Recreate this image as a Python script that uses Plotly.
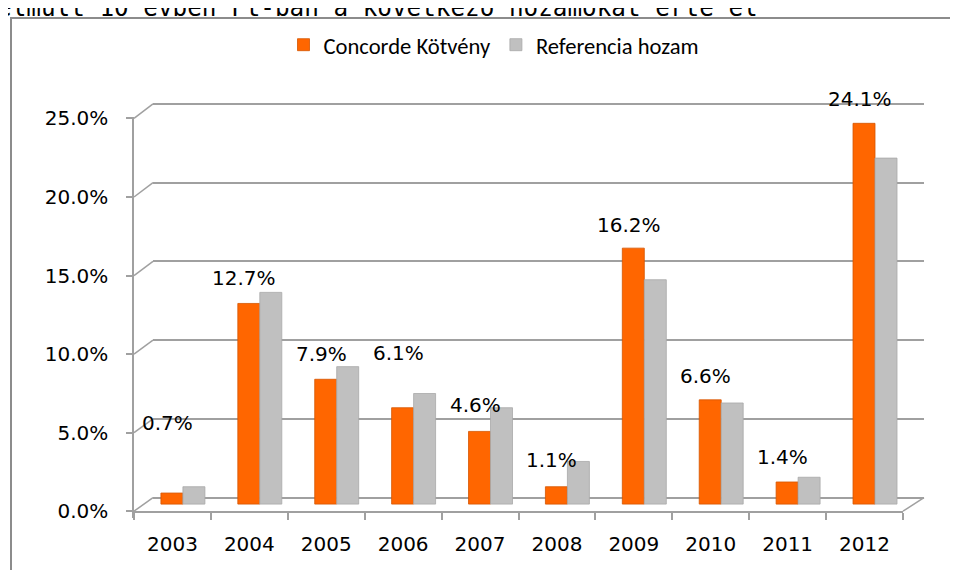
import plotly.graph_objects as go

# ---- data ----
years = ["2003", "2004", "2005", "2006", "2007", "2008", "2009", "2010", "2011", "2012"]
concorde = [0.7, 12.7, 7.9, 6.1, 4.6, 1.1, 16.2, 6.6, 1.4, 24.1]
referencia = [1.1, 13.4, 8.7, 7.0, 6.1, 2.7, 14.2, 6.4, 1.7, 21.9]
y_ticks = [0, 5, 10, 15, 20, 25]
series_names = ["Concorde Kötvény", "Referencia hozam"]
PCT = chr(37)
concorde_labels = [f"{v:.1f}{PCT}" for v in concorde]
y_tick_text = [f"{v:.1f}{PCT}" for v in y_ticks]

# ---- page geometry: the page body has an 8px margin, figure fills the rest ----
PAGE_W, PAGE_H, BODY = 958, 578, 8
W, H = PAGE_W - 2 * BODY, PAGE_H - 2 * BODY
def fx(px):            # page pixel -> paper fraction
    return (px - BODY) / W
def fy(py):
    return 1 - (py - BODY) / H

label_lift = [70, 25, 25, 55, 26, 27, 23, 24, 25, 24]   # px above bar top
GRID = "#A0A0A0"
ORANGE = "#FF6600"
GREY = "#C0C0C0"
TXT = "DejaVu Sans"

front_x = (134, 903)           # front x-axis extent (page px)
axis_y_dom = (117, 518)        # front y-axis line extent
front_zero, front_slope = 511.2, 15.71
back_x = (153, 924)
back_y_dom = (100, 502)
back_zero, back_slope = 497.7, 15.75
bar_y_dom = (117, front_zero)  # bar plane; its bottom carries the x-axis line
bar_zero, bar_slope = 504.1, 15.8

def rng(dom, zero, slope):
    return [-(dom[1] - zero) / slope, (zero - dom[0]) / slope]

fig = go.Figure()

fig.add_trace(go.Scatter(x=[], y=[], xaxis="x", yaxis="y", showlegend=False, hoverinfo="skip"))
fig.add_trace(go.Bar(
    x=years, y=concorde, name=series_names[0], xaxis="x2", yaxis="y2",
    width=0.286, offset=-0.15,
    marker=dict(color=ORANGE, line=dict(color="#D45500", width=0.8)),
))
fig.add_trace(go.Bar(
    x=years, y=referencia, name=series_names[1], xaxis="x2", yaxis="y2",
    width=0.286, offset=0.136,
    marker=dict(color=GREY, line=dict(color="#A8A8A8", width=0.8)),
))
fig.add_trace(go.Scatter(x=[], y=[], xaxis="x2", yaxis="y3", showlegend=False, hoverinfo="skip"))

for i, (v, t, lift) in enumerate(zip(concorde, concorde_labels, label_lift)):
    fig.add_annotation(x=i, y=v, xref="x2", yref="y2", text=t, showarrow=False,
                       xshift=-5, yshift=lift, yanchor="middle",
                       font=dict(family=TXT, size=20, color="black"))

# depth connectors (3D look) at each gridline on the left, and floor at right
shapes = []
for v in y_ticks:
    y0 = front_zero - v * front_slope
    y1 = back_zero - v * back_slope
    shapes.append(dict(type="line", xref="paper", yref="paper",
                       x0=fx(front_x[0]), y0=fy(y0), x1=fx(back_x[0]), y1=fy(y1),
                       line=dict(color=GRID, width=1.5)))
shapes.append(dict(type="line", xref="paper", yref="paper",
                   x0=fx(front_x[1]), y0=fy(front_zero), x1=fx(back_x[1]), y1=fy(back_zero),
                   line=dict(color=GRID, width=1.5)))
# chart frame
shapes.append(dict(type="rect", xref="paper", yref="paper",
                   x0=fx(11), y0=fy(18), x1=fx(1000), y1=fy(620),
                   line=dict(color="#8C8C8C", width=2), fillcolor="rgba(0,0,0,0)"))

# cut-off document text line at the very top
fig.add_annotation(xref="paper", yref="paper", x=fx(-5), y=fy(24), xanchor="left", yanchor="bottom",
                   text="elmúlt 10 évben Ft-ban a következő hozamokat érte el", showarrow=False,
                   font=dict(family="DejaVu Sans Mono", size=24.3, color="black"))

fig.update_layout(
    template="none",
    width=W, height=H, autosize=False,
    margin=dict(l=0, r=0, t=0, b=0, pad=0, autoexpand=False),
    paper_bgcolor="white", plot_bgcolor="rgba(0,0,0,0)",
    barmode="overlay",
    showlegend=True,
    legend=dict(orientation="h", x=fx(494), y=fy(45), xanchor="center", yanchor="middle",
                font=dict(family="Carlito, Liberation Sans Narrow, Liberation Sans", size=22.6, color="black"),
                itemwidth=30, traceorder="normal", bgcolor="rgba(0,0,0,0)", borderwidth=0),
    # back wall (gridlines only)
    xaxis=dict(domain=[fx(back_x[0]), fx(back_x[1])], range=[0, 1], anchor="y", automargin=False,
               showticklabels=False, ticks="", showgrid=False, zeroline=False, showline=False),
    yaxis=dict(domain=[fy(back_y_dom[1]), fy(back_y_dom[0])],
               range=rng(back_y_dom, back_zero, back_slope), automargin=False,
               anchor="x", tickvals=y_ticks, showticklabels=False, ticks="",
               showgrid=True, gridcolor=GRID, gridwidth=1.5, zeroline=False, showline=False),
    # bar plane + front x-axis
    xaxis2=dict(domain=[fx(front_x[0]), fx(front_x[1])], type="category",
                categoryorder="array", categoryarray=years, range=[-0.5, 9.5],
                anchor="y2", automargin=False,
                showline=True, linecolor=GRID, linewidth=1.5,
                ticks="outside", ticklen=7, tickwidth=1.5, tickcolor=GRID,
                tickson="boundaries", showgrid=False, zeroline=False,
                tickfont=dict(family=TXT, size=20, color="black"),
                ticklabelstandoff=14),
    yaxis2=dict(domain=[fy(bar_y_dom[1]), fy(bar_y_dom[0])],
                range=rng(bar_y_dom, bar_zero, bar_slope), anchor="x2", automargin=False,
                showticklabels=False, ticks="", showline=False,
                showgrid=False, zeroline=False),
    # front y-axis
    yaxis3=dict(domain=[fy(axis_y_dom[1]), fy(axis_y_dom[0])],
                range=rng(axis_y_dom, front_zero, front_slope),
                anchor="x2", tickvals=y_ticks, ticktext=y_tick_text, automargin=False,
                showline=True, linecolor=GRID, linewidth=1.5,
                ticks="outside", ticklen=6, tickwidth=1.5, tickcolor=GRID,
                showgrid=False, zeroline=False,
                tickfont=dict(family=TXT, size=20, color="black"),
                ticklabelstandoff=14),
    shapes=shapes,
)

fig.write_html("out.html", config={"displayModeBar": False})
